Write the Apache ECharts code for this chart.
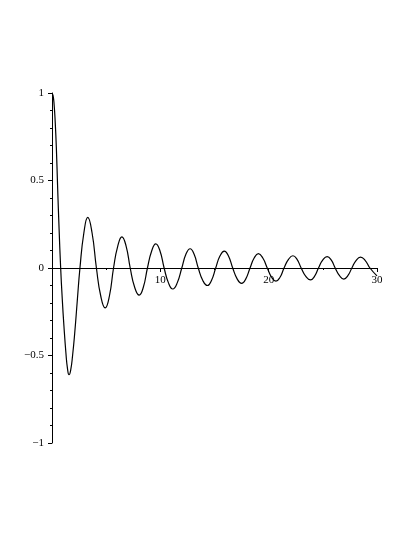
<!DOCTYPE html>
<html>
<head>
<meta charset="utf-8">
<style>html,body{margin:0;padding:0;background:#fff;}#c{width:415px;height:537px;}</style>
<script src="https://cdn.jsdelivr.net/npm/echarts@6/dist/echarts.min.js"></script>
</head>
<body>
<div id="c"></div>
<script>
const xValues = [0,0.1,0.2,0.3,0.4,0.52,0.65,0.8,0.95,1.1,1.29,1.43,1.57,1.72,1.9,2.1,2.33,2.58,2.94,3.3,3.7,4.1,4.5,4.91,5.3,5.68,6.07,6.45,6.84,7.22,7.63,8.05,8.43,8.81,9.2,9.58,9.97,10.35,10.75,11.15,11.56,11.98,12.36,12.75,13.12,13.5,13.92,14.34,14.72,15.11,15.5,15.9,16.29,16.68,17.09,17.5,17.89,18.28,18.66,19.05,19.46,19.87,20.27,20.67,21.05,21.42,21.83,22.24,22.62,23.0,23.43,23.87,24.23,24.6,25.0,25.4,25.77,26.14,26.54,26.94,27.31,27.68,28.08,28.48,28.9,29.35,30];
const yValues = [1.0,0.985,0.93,0.83,0.69,0.46,0.23,0,-0.18,-0.33,-0.49,-0.575,-0.61,-0.585,-0.5,-0.37,-0.19,0,0.2,0.289,0.2,0,-0.16,-0.228,-0.16,0,0.125,0.178,0.125,0,-0.11,-0.155,-0.11,0,0.097,0.138,0.097,0,-0.085,-0.12,-0.085,0,0.078,0.11,0.078,0,-0.071,-0.1,-0.071,0,0.068,0.097,0.068,0,-0.062,-0.088,-0.062,0,0.057,0.082,0.057,0,-0.053,-0.075,-0.053,0,0.049,0.07,0.049,0,-0.048,-0.068,-0.048,0,0.046,0.065,0.046,0,-0.044,-0.063,-0.044,0,0.044,0.062,0.044,0,-0.045];
const xTickLabels = {10:'10',20:'20',30:'30'};
const yTickLabels = {'-1':'\u22121','-0.5':'\u22120.5','0':'0','0.5':'0.5','1':'1'};

const chart = echarts.init(document.getElementById('c'), null, {renderer:'canvas'});
const labelFont = {color:'#000', fontFamily:'"Liberation Serif","DejaVu Serif",serif', fontSize:11};
chart.setOption({
  animation:false,
  backgroundColor:'#fff',
  grid:{left:52, right:38, top:93, bottom:94, containLabel:false},
  xAxis:{
    type:'value', min:0, max:30, interval:10,
    position:'bottom', offset:-175,
    axisLine:{show:true, onZero:false, lineStyle:{color:'#000', width:1}},
    axisTick:{show:true, length:4, lineStyle:{color:'#000'}},
    minorTick:{show:true, splitNumber:2, length:2, lineStyle:{color:'#000'}},
    splitLine:{show:false},
    axisLabel:Object.assign({margin:7, formatter:v => xTickLabels[v] || ''}, labelFont)
  },
  yAxis:{
    type:'value', min:-1, max:1, interval:0.5,
    axisLine:{show:true, onZero:false, lineStyle:{color:'#000', width:1}},
    axisTick:{show:true, length:4, lineStyle:{color:'#000'}},
    minorTick:{show:true, splitNumber:5, length:2, lineStyle:{color:'#000'}},
    splitLine:{show:false},
    axisLabel:Object.assign({margin:8, formatter:v => yTickLabels[String(v)] || ''}, labelFont)
  },
  series:[{
    type:'line',
    data:xValues.map((x,i)=>[x,yValues[i]]),
    smooth:0.5,
    showSymbol:false,
    symbol:'none',
    lineStyle:{color:'#000', width:1.2}
  }]
});
</script>
</body>
</html>
